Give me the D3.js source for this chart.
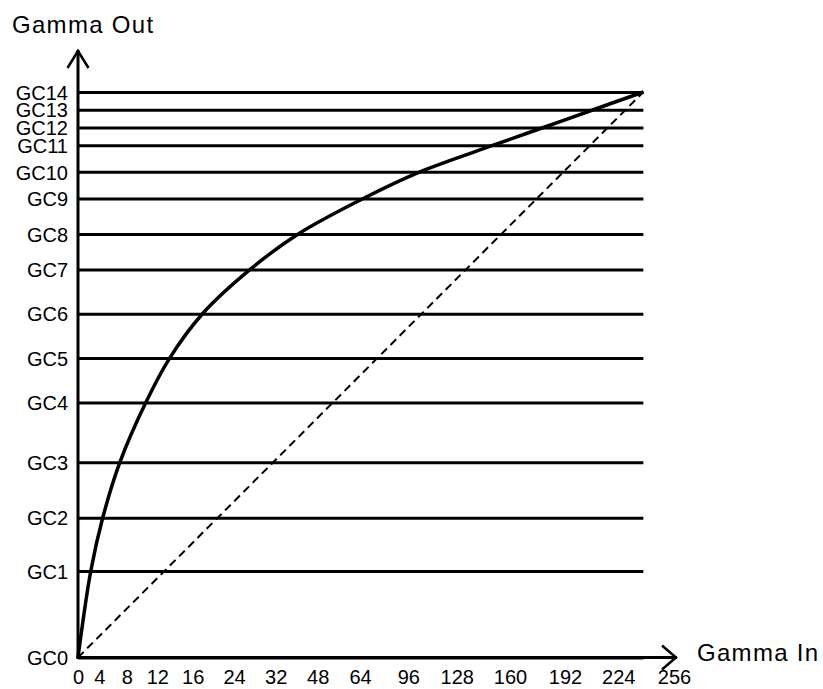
<!DOCTYPE html>
<html><head><meta charset="utf-8">
<script src="https://cdn.jsdelivr.net/npm/d3@7"></script>
<style>
body{margin:0;background:#fff}
svg{display:block}
text{font-family:Arial,"Liberation Sans",sans-serif;fill:#000}
</style>
</head><body><svg id="c" width="823" height="689"></svg>
<script>
// ---- data ----
const xTickValues = [0, 4, 8, 12, 16, 24, 32, 48, 64, 96, 128, 160, 192, 224, 256];
const gcLabels = ["GC0","GC1","GC2","GC3","GC4","GC5","GC6","GC7","GC8","GC9","GC10","GC11","GC12","GC13","GC14"];
const gcLevels = [0, 39, 63, 88, 115, 135, 155, 175, 191, 207, 219, 231, 239, 247, 255];
const curveIn  = [0, 2.4, 4.5, 7.0, 10.5, 13.4, 17.9, 27.1, 40.6, 66.2, 103.7, 150, 179.4, 209, 238.4];
const inputEnd = 238.4;
const outMax = 255;

// ---- layout ----
const svg = d3.select("#c");
const xRange = [78, 99.3, 126.7, 157.3, 192.7, 234, 275.7, 317.7, 360, 408.3, 456.7, 510, 565, 618.3, 674];
const x = d3.scaleLinear().domain(xTickValues).range(xRange);
const y = d3.scaleLinear().domain([0, outMax]).range([657.5, 92]);
const x0 = x(0), y0 = y(0);

// horizontal GC lines + labels via axis
const yAxis = d3.axisLeft(y)
  .tickValues(gcLevels)
  .tickFormat((d, i) => gcLabels[i])
  .tickSizeInner(-(x(inputEnd) - x0))
  .tickSizeOuter(0)
  .tickPadding(10);
const gy = svg.append("g").attr("transform", `translate(${x0},0)`).call(yAxis);
gy.select(".domain").remove();
gy.selectAll(".tick line").attr("stroke", "#000").attr("stroke-width", 3);
gy.selectAll(".tick text").attr("font-size", 20).attr("dy", "0.36em")
  .attr("font-family", "Arial, 'Liberation Sans', sans-serif").attr("fill", "#000");

// x tick labels
const xAxis = d3.axisBottom(x).tickValues(xTickValues).tickSize(0).tickPadding(12);
const gx = svg.append("g").attr("transform", `translate(0,${y0})`).call(xAxis);
gx.select(".domain").remove();
gx.selectAll(".tick text").attr("font-size", 20)
  .attr("font-family", "Arial, 'Liberation Sans', sans-serif").attr("fill", "#000");

// axes lines with arrows
const yTop = 50, xRight = 677;
svg.append("line").attr("x1", x0).attr("y1", y0 + 1.5).attr("x2", x0).attr("y2", yTop)
  .attr("stroke", "#000").attr("stroke-width", 3);
svg.append("line").attr("x1", x0 - 1.5).attr("y1", y0).attr("x2", xRight).attr("y2", y0)
  .attr("stroke", "#000").attr("stroke-width", 3);
svg.append("path")
  .attr("d", `M${x0 - 10.5},${yTop + 18}L${x0},${yTop + 1}L${x0 + 10.5},${yTop + 18}`)
  .attr("fill", "none").attr("stroke", "#000").attr("stroke-width", 2.5);
svg.append("path")
  .attr("d", `M${xRight - 15},${y0 - 12}L${xRight - 1},${y0}L${xRight - 15},${y0 + 12}`)
  .attr("fill", "none").attr("stroke", "#000").attr("stroke-width", 2.5);

// dashed linear reference
svg.append("path")
  .datum([[0, 0], [inputEnd, outMax]])
  .attr("d", d3.line().x(d => x(d[0])).y(d => y(d[1])))
  .attr("fill", "none").attr("stroke", "#000").attr("stroke-width", 2)
  .attr("stroke-dasharray", "8,5");

// gamma curve
const pts = curveIn.map((v, i) => [v, gcLevels[i]]);
svg.append("path")
  .datum(pts)
  .attr("d", d3.line().x(d => x(d[0])).y(d => y(d[1])).curve(d3.curveCatmullRom.alpha(0.5)))
  .attr("fill", "none").attr("stroke", "#000").attr("stroke-width", 3.5)
  .attr("stroke-linejoin", "round");

// titles
svg.append("text").attr("x", 12).attr("y", 33).attr("font-size", 24)
  .attr("letter-spacing", "1.3px").text("Gamma Out");
svg.append("text").attr("x", 697).attr("y", 660.5).attr("font-size", 24)
  .attr("letter-spacing", "1.3px").text("Gamma In");
</script>
</body></html>
